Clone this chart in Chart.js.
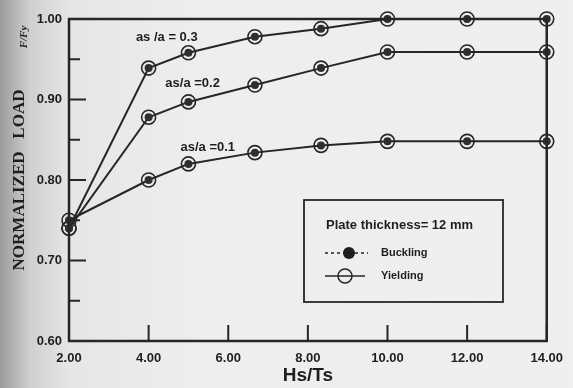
<!DOCTYPE html>
<html>
<head>
<meta charset="utf-8">
<script src="https://cdn.jsdelivr.net/npm/chart.js@4/dist/chart.umd.min.js"></script>
<style>
  html, body { margin: 0; padding: 0; }
  body {
    width: 573px; height: 388px; overflow: hidden;
    background: linear-gradient(to right, #9c9c9c 0px, #cfcfcf 30px, #e6e6e6 70px, #eeeeee 200px, #efefef 100%);
  }
  #wrap { position: relative; width: 573px; height: 388px; }
</style>
</head>
<body>
<div id="wrap"><canvas id="loadChart"></canvas></div>
<script>
// data
var hsTs = [2, 4, 5, 6.67, 8.33, 10, 12, 14];
var load01 = [0.750, 0.800, 0.820, 0.834, 0.843, 0.848, 0.848, 0.848];
var load02 = [0.740, 0.878, 0.897, 0.918, 0.939, 0.959, 0.959, 0.959];
var load03 = [0.740, 0.939, 0.958, 0.978, 0.988, 1.000, 1.000, 1.000];
var seriesNames = ['as/a =0.1', 'as/a =0.2', 'as /a = 0.3'];
var legendTitle = 'Plate thickness= 12 mm';
var legendLabels = ['Buckling', 'Yielding'];

var ink = '#262626';
var sans = '"Liberation Sans", Arial, sans-serif';
var serif = '"Liberation Serif", "Times New Roman", serif';

function pts(ys) {
    return hsTs.map(function (x, i) { return {x: x, y: ys[i]}; });
}

var series = [load01, load02, load03];
var datasets = [];
series.forEach(function (ys, i) {
    // buckling: filled dots (on top)
    datasets.push({
        label: seriesNames[i] + ' ' + legendLabels[0],
        data: pts(ys),
        showLine: false,
        pointStyle: 'circle',
        pointRadius: 4,
        pointBackgroundColor: '#2e2e2e',
        pointBorderWidth: 0,
        order: 0,
        clip: false
    });
    // yielding: open circles joined by a solid line
    datasets.push({
        label: seriesNames[i] + ' ' + legendLabels[1],
        data: pts(ys),
        borderColor: ink,
        borderWidth: 2,
        tension: 0,
        pointStyle: 'circle',
        pointRadius: 7,
        pointBackgroundColor: 'rgba(0,0,0,0)',
        pointBorderColor: ink,
        pointBorderWidth: 1.6,
        order: 1,
        clip: false
    });
});

// frame, inward ticks, series notes and the boxed legend
var decor = {
    id: 'decor',
    afterDraw: function (chart) {
        var c = chart.ctx, a = chart.chartArea;
        var xs = chart.scales.x, ys = chart.scales.y;
        c.save();
        c.strokeStyle = ink;
        c.lineWidth = 2.5;
        c.strokeRect(a.left, a.top, a.right - a.left, a.bottom - a.top);

        c.lineWidth = 2;
        ys.ticks.forEach(function (t, i) {
            var py = ys.getPixelForTick(i);
            var major = Math.round(t.value * 100) % 10 === 0;
            c.beginPath();
            c.moveTo(a.left, py);
            c.lineTo(a.left + (major ? 17 : 11), py);
            c.stroke();
        });
        xs.ticks.forEach(function (t, i) {
            var px = xs.getPixelForTick(i);
            c.beginPath();
            c.moveTo(px, a.bottom);
            c.lineTo(px, a.bottom - 16);
            c.stroke();
        });

        // series notes
        c.fillStyle = '#1e1e1e';
        c.font = 'bold 13px ' + sans;
        c.textBaseline = 'middle';
        c.fillText(seriesNames[2], xs.getPixelForValue(3.68), ys.getPixelForValue(0.977));
        c.fillText(seriesNames[1], xs.getPixelForValue(4.42), ys.getPixelForValue(0.920));
        c.fillText(seriesNames[0], xs.getPixelForValue(4.80), ys.getPixelForValue(0.841));

        // F/Fy next to the axis title
        c.save();
        c.translate(24, 37);
        c.rotate(-Math.PI / 2);
        c.font = 'italic bold 11px ' + serif;
        c.textAlign = 'center';
        c.fillText('F/Fy', 0, 0);
        c.restore();

        // legend box
        var bx = 304, by = 200, bw = 199, bh = 102;
        c.lineWidth = 1.8;
        c.strokeRect(bx, by, bw, bh);
        c.font = 'bold 13px ' + sans;
        c.fillText(legendTitle, bx + 22, by + 25);

        var sx = bx + 41;
        c.lineWidth = 1.5;
        // buckling row
        c.setLineDash([3, 3]);
        c.beginPath(); c.moveTo(bx + 21, by + 53); c.lineTo(bx + 64, by + 53); c.stroke();
        c.setLineDash([]);
        c.beginPath(); c.arc(sx + 4, by + 53, 6, 0, Math.PI * 2); c.fill();
        // yielding row
        c.beginPath(); c.moveTo(bx + 21, by + 76); c.lineTo(bx + 61, by + 76); c.stroke();
        c.fillStyle = '#efefef';
        c.beginPath(); c.arc(sx, by + 76, 7, 0, Math.PI * 2); c.fill(); c.stroke();
        c.beginPath(); c.moveTo(sx - 7, by + 76); c.lineTo(sx + 7, by + 76); c.stroke();
        c.fillStyle = '#1e1e1e';
        c.font = 'bold 11px ' + sans;
        c.fillText(legendLabels[0], bx + 77, by + 53);
        c.fillText(legendLabels[1], bx + 77, by + 76);
        c.restore();
    }
};

var tickFont = {family: sans, size: 13, weight: 'bold'};

new Chart(document.getElementById('loadChart').getContext('2d'), {
    type: 'line',
    data: {datasets: datasets},
    options: {
        responsive: true,
        maintainAspectRatio: false,
        animation: false,
        layout: {padding: {top: 19, right: 18, left: 0, bottom: 0}},
        plugins: {legend: {display: false}, tooltip: {enabled: false}},
        scales: {
            x: {
                type: 'linear',
                min: 2, max: 14,
                grid: {display: false, drawTicks: false},
                border: {display: false},
                ticks: {
                    stepSize: 2, color: '#1e1e1e', font: tickFont, padding: 10,
                    maxRotation: 0,
                    callback: function (v) { return v.toFixed(2); }
                },
                title: {
                    display: true, text: 'Hs/Ts', color: '#1e1e1e',
                    font: {family: sans, size: 19, weight: 'bold'},
                    padding: {top: 0, bottom: 1}
                },
                afterFit: function (s) { s.height = 47; }
            },
            y: {
                min: 0.6, max: 1.0,
                grid: {display: false, drawTicks: false},
                border: {display: false},
                ticks: {
                    stepSize: 0.05, color: '#1e1e1e', font: tickFont, padding: 7,
                    callback: function (v) {
                        return Math.round(v * 100) % 10 === 0 ? v.toFixed(2) : '';
                    }
                },
                title: {
                    display: true, text: 'NORMALIZED   LOAD', color: '#1e1e1e',
                    font: {family: serif, size: 17, weight: 'bold'},
                    padding: {top: 9, bottom: 0}
                },
                afterFit: function (s) { s.width = 69; }
            }
        }
    },
    plugins: [decor]
});
</script>
</body>
</html>
